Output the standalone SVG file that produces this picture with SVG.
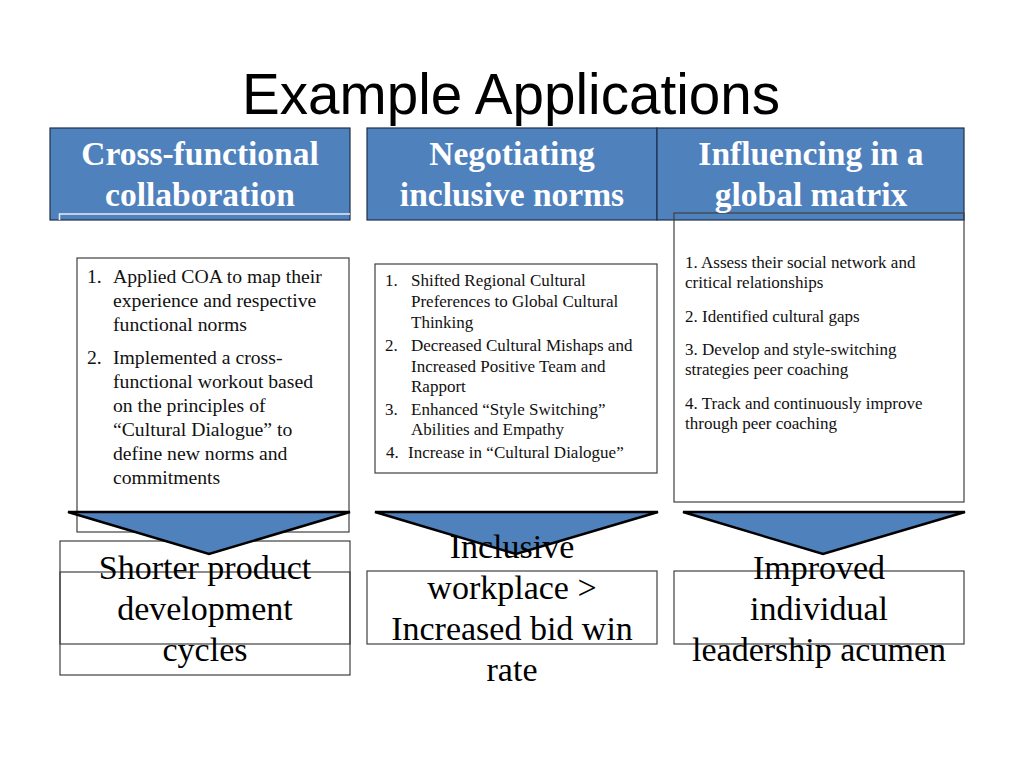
<svg xmlns="http://www.w3.org/2000/svg" width="1024" height="768" viewBox="0 0 1024 768">
<style>
.hdr{fill:#4F81BD;stroke:#1f2f4a;stroke-width:1.2}
.ht{font-family:"Liberation Serif",serif;font-weight:bold;font-size:33.5px;fill:#ffffff;text-anchor:middle}
.box{fill:none;stroke:#404040;stroke-width:1.2}
.b1{font-family:"Liberation Serif",serif;font-size:19.7px;fill:#111}
.b2{font-family:"Liberation Serif",serif;font-size:17px;fill:#111}
.rt{font-family:"Liberation Serif",serif;font-size:34px;fill:#000;text-anchor:middle}
.tri{fill:#4F81BD;stroke:#000;stroke-width:2.5;stroke-linejoin:miter}
</style>
<rect width="1024" height="768" fill="#ffffff"/>
<text x="511" y="114" font-family="'Liberation Sans',Arial,sans-serif" font-size="57" text-anchor="middle" fill="#000" textLength="538" lengthAdjust="spacingAndGlyphs">Example Applications</text>

<g id="header1">
<rect class="hdr" x="50" y="128" width="300" height="92"/>
<polyline points="59.5,220 59.5,214 350,214" fill="none" stroke="#e4ebf5" stroke-width="1.6"/>
<text class="ht" x="200" y="165">Cross-functional</text>
<text class="ht" x="200" y="206">collaboration</text>
</g>
<g id="header2">
<rect class="hdr" x="367" y="128" width="290" height="92"/>
<text class="ht" x="512" y="165">Negotiating</text>
<text class="ht" x="512" y="206">inclusive norms</text>
</g>
<g id="header3">
<rect class="hdr" x="657" y="128" width="307" height="92"/>
<rect class="box" x="674" y="213" width="290" height="289"/>
<text class="ht" x="811" y="165">Influencing in a</text>
<text class="ht" x="811" y="206">global matrix</text>
</g>

<g id="content1">
<rect class="box" x="77" y="258" width="272" height="274" fill="#fff"/>
<text class="b1"><tspan x="87" y="283">1.</tspan><tspan x="113" y="283">Applied COA to map their</tspan><tspan x="113" y="307">experience and respective</tspan><tspan x="113" y="331">functional norms</tspan><tspan x="87" y="364">2.</tspan><tspan x="113" y="364">Implemented a cross-</tspan><tspan x="113" y="388">functional workout based</tspan><tspan x="113" y="412">on the principles of</tspan><tspan x="113" y="436">“Cultural Dialogue” to</tspan><tspan x="113" y="460">define new norms and</tspan><tspan x="113" y="484">commitments</tspan></text>
</g>
<g id="content2">
<rect class="box" x="375" y="264" width="282" height="209"/>
<text class="b2"><tspan x="385" y="286">1.</tspan><tspan x="411" y="286">Shifted Regional Cultural</tspan><tspan x="411" y="307">Preferences to Global Cultural</tspan><tspan x="411" y="328">Thinking</tspan><tspan x="385" y="351">2.</tspan><tspan x="411" y="351">Decreased Cultural Mishaps and</tspan><tspan x="411" y="372">Increased Positive Team and</tspan><tspan x="411" y="392">Rapport</tspan><tspan x="385" y="415">3.</tspan><tspan x="411" y="415">Enhanced “Style Switching”</tspan><tspan x="411" y="435">Abilities and Empathy</tspan><tspan x="386" y="458">4.</tspan><tspan x="408" y="458">Increase in “Cultural Dialogue”</tspan></text>
</g>
<g id="content3">
<text class="b2"><tspan x="685" y="268">1. Assess their social network and</tspan><tspan x="685" y="288">critical relationships</tspan><tspan x="685" y="322">2. Identified cultural gaps</tspan><tspan x="685" y="355">3. Develop and style-switching</tspan><tspan x="685" y="375">strategies peer coaching</tspan><tspan x="685" y="409">4. Track and continuously improve</tspan><tspan x="685" y="429">through peer coaching</tspan></text>
</g>

<g id="result1">
<rect class="box" x="60" y="541" width="290" height="134"/>
<rect class="box" x="60" y="572" width="290" height="72"/>
</g>
<g id="result2">
<rect class="box" x="367" y="571" width="290" height="73"/>
</g>
<g id="result3">
<rect class="box" x="674" y="571" width="290" height="73"/>
</g>

<g id="connectors">
<polygon class="tri" points="68,512 350,512 209,554"/>
<polygon class="tri" points="375,512 658,512 516,554"/>
<polygon class="tri" points="683,512 965,512 823,554"/>
</g>

<g id="result-text">
<text class="rt"><tspan x="205" y="579">Shorter product</tspan><tspan x="205" y="620">development</tspan><tspan x="205" y="661">cycles</tspan></text>
<text class="rt"><tspan x="512" y="558">Inclusive</tspan><tspan x="512" y="599">workplace &gt;</tspan><tspan x="512" y="640">Increased bid win</tspan><tspan x="512" y="681">rate</tspan></text>
<text class="rt"><tspan x="819" y="579">Improved</tspan><tspan x="819" y="620">individual</tspan><tspan x="819" y="661">leadership acumen</tspan></text>
</g>
</svg>
